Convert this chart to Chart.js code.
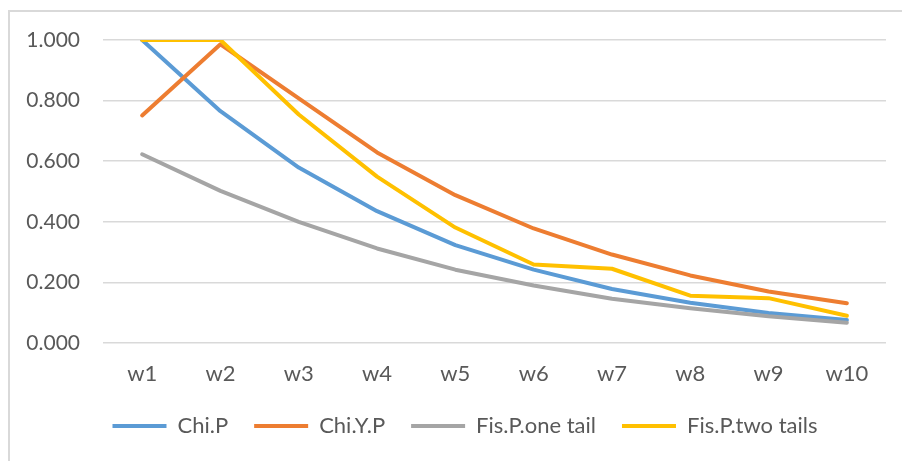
<!DOCTYPE html>
<html>
<head>
<meta charset="utf-8">
<script src="https://cdn.jsdelivr.net/npm/chart.js@4"></script>
<style>
  html, body { margin: 0; padding: 0; background: #fff; overflow: hidden; }
  body { width: 902px; height: 461px; position: relative; }
  #frame { position: absolute; left: 8px; top: 10px; width: 1000px; height: 1000px; border: 2px solid #d9d9d9; }
  #chart { position: absolute; left: 0; top: 0; }
</style>
</head>
<body>
<div id="frame"></div>
<canvas id="chart" width="902" height="461"></canvas>
<script>
// semaines
const weeks = ['w1', 'w2', 'w3', 'w4', 'w5', 'w6', 'w7', 'w8', 'w9', 'w10'];

// p-values par test
const chiP      = [1.000, 0.765, 0.579, 0.435, 0.323, 0.242, 0.178, 0.133, 0.099, 0.076];
const chiYP     = [0.751, 0.986, 0.807, 0.629, 0.488, 0.378, 0.292, 0.223, 0.170, 0.131];
const fisOne    = [0.623, 0.502, 0.400, 0.312, 0.242, 0.190, 0.146, 0.115, 0.088, 0.067];
const fisTwo    = [1.000, 1.000, 0.754, 0.549, 0.381, 0.259, 0.245, 0.156, 0.148, 0.090];

const FONT = 'Lato, "Liberation Sans", sans-serif';
const TXT = '#595959';

const serie = (label, data, color, order) => ({
    label: label,
    data: data,
    borderColor: color,
    backgroundColor: color,
    borderWidth: 4,
    borderCapStyle: 'round',
    borderJoinStyle: 'round',
    pointRadius: 0,
    pointHoverRadius: 0,
    tension: 0,
    fill: false,
    order: order
});

// recentre la légende sous la zone de tracé plutôt que sous tout le canvas
const decalLegende = {
    id: 'decalLegende',
    afterLayout(chart) {
        chart.legend.left += 22;
        chart.legend.right += 22;
    }
};

new Chart(document.getElementById('chart'), {
    type: 'line',
    data: {
        labels: weeks,
        datasets: [
            serie('Chi.P', chiP, '#5B9BD5', 4),
            serie('Chi.Y.P', chiYP, '#ED7D31', 3),
            serie('Fis.P.one tail', fisOne, '#A5A5A5', 2),
            serie('Fis.P.two tails', fisTwo, '#FFC000', 1)
        ]
    },
    plugins: [decalLegende],
    options: {
        responsive: false,
        devicePixelRatio: 1,
        animation: false,
        layout: { padding: { top: 40, right: 16, bottom: 14, left: 0 } },
        scales: {
            x: {
                offset: true,
                grid: { display: false },
                border: { display: false },
                ticks: { color: TXT, font: { family: FONT, size: 22 }, padding: 10, maxRotation: 0 },
                afterFit: (s) => { s.height = 46; }
            },
            y: {
                min: 0,
                max: 1,
                ticks: {
                    stepSize: 0.2,
                    color: TXT,
                    font: { family: FONT, size: 21 },
                    padding: 23,
                    callback: (v) => v.toFixed(3)
                },
                grid: { color: '#d9d9d9', lineWidth: 1.5, drawTicks: false },
                border: { display: false },
                afterFit: (s) => { s.width = 103; }
            }
        },
        plugins: {
            tooltip: { enabled: false },
            legend: {
                position: 'bottom',
                labels: {
                    usePointStyle: true,
                    pointStyle: 'line',
                    pointStyleWidth: 54,
                    boxHeight: 22,
                    padding: 26,
                    color: TXT,
                    font: { family: FONT, size: 22 },
                    sort: (a, b) => a.datasetIndex - b.datasetIndex
                }
            }
        }
    }
});
</script>
</body>
</html>
